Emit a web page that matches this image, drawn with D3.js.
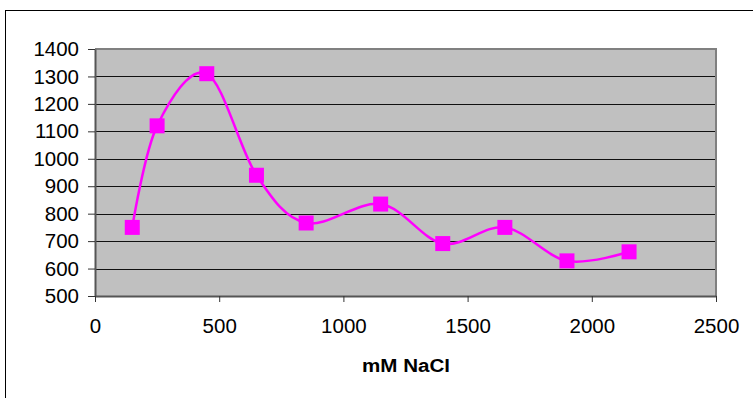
<!DOCTYPE html>
<html><head><meta charset="utf-8">
<script src="https://cdn.jsdelivr.net/npm/d3@7"></script>
<style>body{margin:0;background:#fff;}svg{display:block;}text{font-family:"Liberation Sans",Arial,sans-serif;}</style>
</head><body>
<svg id="c" width="753" height="398"></svg>
<script>
const xValues = [150, 250, 450, 650, 850, 1150, 1400, 1650, 1900, 2150];
const yValues = [750, 1120, 1310, 940, 766, 835, 691, 750, 628, 661];
const xTicks = [0, 500, 1000, 1500, 2000, 2500];
const yTicks = [500, 600, 700, 800, 900, 1000, 1100, 1200, 1300, 1400];
const xTitle = "mM NaCl";

const svg = d3.select("#c");
const L = 95, R = 716, T = 49, B = 296;
const x = d3.scaleLinear().domain([0, 2500]).range([L, R]);
const y = d3.scaleLinear().domain([500, 1400]).range([B, T]);
const fmt = d3.format("d");

// outer chart border
svg.append("rect").attr("x", 5.5).attr("y", 10.5).attr("width", 800).attr("height", 400)
  .attr("fill", "none").attr("stroke", "#000").attr("stroke-width", 1);

// plot area
svg.append("rect").attr("x", L).attr("y", T).attr("width", R - L).attr("height", B - T)
  .attr("fill", "#c0c0c0");

// gridlines
svg.append("g").selectAll("line").data(yTicks.filter(d => d > 500 && d < 1400)).join("line")
  .attr("x1", L).attr("x2", R)
  .attr("y1", d => Math.round(y(d)) + 0.5).attr("y2", d => Math.round(y(d)) + 0.5)
  .attr("stroke", "#111").attr("stroke-width", 1);

// plot border top/right gray
svg.append("path").attr("d", `M${L},${T} H${R} V${B}`).attr("fill", "none")
  .attr("stroke", "#808080").attr("stroke-width", 2);

// y axis
const yAxis = d3.axisLeft(y).tickValues(yTicks).tickFormat(fmt).tickSize(7).tickSizeOuter(0).tickPadding(9);
const gy = svg.append("g").attr("transform", `translate(${L},0)`).call(yAxis)
  .attr("font-family", "Liberation Sans, Arial, sans-serif");
gy.select(".domain").attr("stroke", "#555").attr("stroke-width", 2);
gy.selectAll(".tick line").attr("stroke", "#333");
gy.selectAll("text").style("font-size", "20.5px").attr("fill", "#000");

// x axis
const xAxis = d3.axisBottom(x).tickValues(xTicks).tickFormat(fmt).tickSize(6).tickSizeOuter(0).tickPadding(16);
const gx = svg.append("g").attr("transform", `translate(0,${B})`).call(xAxis)
  .attr("font-family", "Liberation Sans, Arial, sans-serif");
gx.select(".domain").attr("stroke", "#555").attr("stroke-width", 2);
gx.selectAll(".tick line").attr("stroke", "#333");
gx.selectAll("text").style("font-size", "20.5px").attr("fill", "#000");

// title
svg.append("text").attr("x", 406).attr("y", 372).attr("text-anchor", "middle")
  .style("font-size", "18px").attr("font-weight", "bold")
  .attr("textLength", 88).attr("lengthAdjust", "spacingAndGlyphs").text(xTitle);

// line
const pts = xValues.map((v, i) => [v, yValues[i]]);
const line = d3.line().x(d => x(d[0])).y(d => y(d[1])).curve(d3.curveCardinal.tension(0));
svg.append("path").datum(pts).attr("d", line).attr("fill", "none")
  .attr("stroke", "#ff00ff").attr("stroke-width", 2.5);

// markers
const s = 15;
svg.append("g").selectAll("rect").data(pts).join("rect")
  .attr("x", d => x(d[0]) - s / 2).attr("y", d => y(d[1]) - s / 2)
  .attr("width", s).attr("height", s).attr("fill", "#ff00ff");
</script>
</body></html>
